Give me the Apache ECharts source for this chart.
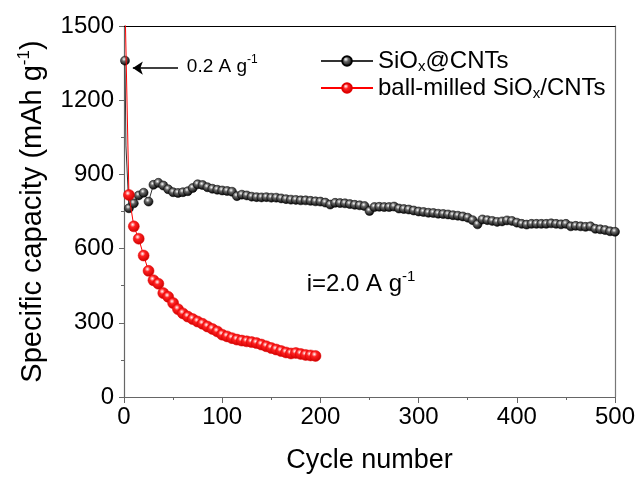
<!DOCTYPE html>
<html><head><meta charset="utf-8">
<script src="https://cdn.jsdelivr.net/npm/echarts@6/dist/echarts.min.js"></script>
<style>html,body{margin:0;padding:0;background:#fff}#c{width:642px;height:482px}</style>
</head><body><div id="c"></div>
<script>
// ---- data ----
const blackCycles = [1,2,4,5,10,15,20,25,30,35,40,45,50,55,60,65,70,75,80,85,90,95,100,105,110,115,120,125,130,135,140,145,150,155,160,165,170,175,180,185,190,195,200,205,210,215,220,225,230,235,240,245,250,255,260,265,270,275,280,285,290,295,300,305,310,315,320,325,330,335,340,345,350,355,360,365,370,375,380,385,390,395,400,405,410,415,420,425,430,435,440,445,450,455,460,465,470,475,480,485,490,495,500];
const blackValues = [1360,1015,1010,763,783,815,826,790,858,866,855,840,828,825,828,832,845,860,857,848,842,838,835,833,830,812,818,815,810,808,807,808,806,806,803,800,798,797,795,795,793,791,790,786,778,785,784,783,780,777,775,772,752,768,769,768,768,770,762,760,758,754,750,748,745,744,741,740,738,735,733,730,725,715,698,718,715,712,708,710,714,712,705,700,697,700,700,700,700,702,700,698,700,690,692,690,688,690,680,678,675,670,668];
const blackUnmarked = [2,4];
const redCycles = [1,5,10,15,20,25,30,35,40,45,50,55,60,65,70,75,80,85,90,95,100,105,110,115,120,125,130,135,140,145,150,155,160,165,170,175,180,185,190,195];
const redValues = [1600,817,690,640,572,510,472,458,420,405,380,355,338,325,315,305,296,285,275,265,252,245,238,232,228,225,222,218,212,205,198,192,186,180,176,178,174,170,168,166];
const xTicks = [0,100,200,300,400,500];
const yTicks = [0,300,600,900,1200,1500];
const arrowFrom = [55,1330], arrowTo = [9,1330];
const note1Pos = [64,1330];
const note2Pos = [186,453];

const FONT = 'Liberation Sans, Arial, sans-serif';
const chart = echarts.init(document.getElementById('c'));

function ball(c0, c1, c2){
  return {type:'radial', x:0.4, y:0.35, r:0.65,
    colorStops:[{offset:0,color:c0},{offset:0.35,color:c1},{offset:1,color:c2}]};
}
const blackData = blackCycles.map((c,i)=> blackUnmarked.includes(c)
  ? {value:[c, blackValues[i]], symbol:'none'} : [c, blackValues[i]]);
const redData = redCycles.map((c,i)=>[c, redValues[i]]);

chart.setOption({
  animation:false,
  textStyle:{fontFamily:FONT},
  grid:{left:124, right:27, top:26, bottom:85},
  legend:{
    orient:'vertical', left:315, top:44, itemWidth:52, itemHeight:12, itemGap:2,
    data:['SiOx@CNTs','ball-milled SiOx/CNTs'],
    formatter: n => n==='SiOx@CNTs' ? '{a|SiO}{b|x}{a|@CNTs}' : '{a|ball-milled SiO}{b|x}{a|/CNTs}',
    textStyle:{fontFamily:FONT, color:'#000', rich:{
      a:{fontSize:24, fontFamily:FONT, color:'#000', lineHeight:26},
      b:{fontSize:15, fontFamily:FONT, color:'#000', verticalAlign:'bottom', lineHeight:15}
    }}
  },
  xAxis:[{
    type:'value', min:0, max:500, interval:100,
    name:'Cycle number', nameLocation:'middle', nameGap:50,
    nameTextStyle:{fontSize:27, color:'#000', fontFamily:FONT},
    axisLine:{lineStyle:{color:'#666', width:1.2}},
    axisTick:{length:6, lineStyle:{color:'#666'}},
    minorTick:{show:true, splitNumber:2, length:3, lineStyle:{color:'#666'}},
    splitLine:{show:false},
    axisLabel:{fontSize:24, color:'#000', margin:8, fontFamily:FONT, formatter: v => String(v)}
  },{
    type:'value', position:'top', min:0, max:500,
    axisLine:{show:true, onZero:false, lineStyle:{color:'#000', width:1.2}},
    axisTick:{show:false}, axisLabel:{show:false}, splitLine:{show:false}
  }],
  yAxis:[{
    type:'value', min:0, max:1500, interval:300,
    name:'{a|Specific capacity (mAh g}{s|-1}{a|)}', nameLocation:'middle', nameGap:74,
    nameTextStyle:{fontFamily:FONT, color:'#000', rich:{
      a:{fontSize:29, fontFamily:FONT, color:'#000', lineHeight:34},
      s:{fontSize:17, fontFamily:FONT, color:'#000', verticalAlign:'top', lineHeight:17}
    }},
    axisLine:{show:true, lineStyle:{color:'#666', width:1.2}},
    axisTick:{show:true, length:5, lineStyle:{color:'#666'}},
    minorTick:{show:true, splitNumber:2, length:3, lineStyle:{color:'#666'}},
    splitLine:{show:false},
    axisLabel:{fontSize:24, color:'#000', margin:10, fontFamily:FONT, formatter: v => String(v)}
  },{
    type:'value', position:'right', min:0, max:1500,
    axisLine:{show:true, onZero:false, lineStyle:{color:'#777', width:1.2}},
    axisTick:{show:false}, axisLabel:{show:false}, splitLine:{show:false}
  }],
  series:[{
    name:'SiOx@CNTs', type:'line', data:blackData, clip:true,
    symbol:'circle', symbolSize:9, showAllSymbol:true,
    lineStyle:{color:'#333', width:1},
    itemStyle:{color:ball('#ffffff','#666666','#000000'), borderColor:'#000', borderWidth:0.5},
    markLine:{silent:true, symbol:['none','arrow'], symbolSize:10,
      lineStyle:{color:'#000', width:1.5, type:'solid'}, label:{show:false},
      data:[[{coord:arrowFrom},{coord:arrowTo}]]},
    z:3
  },{
    name:'ball-milled SiOx/CNTs', type:'line', data:redData, clip:true,
    symbol:'circle', symbolSize:11, showAllSymbol:true,
    lineStyle:{color:'#ff0000', width:1},
    itemStyle:{color:ball('#ffffff','#ff2020','#cc0000'), borderColor:'#e00000', borderWidth:0.5},
    z:4
  }]
});

const p1 = chart.convertToPixel({gridIndex:0}, note1Pos);
const p2 = chart.convertToPixel({gridIndex:0}, note2Pos);
chart.setOption({graphic:[
  {type:'text', left:p1[0], top:p1[1]-14, style:{
    text:'{a|0.2 A g}{s|-1}', fontFamily:FONT,
    rich:{a:{fontSize:19, fontFamily:FONT, fill:'#000', lineHeight:25}, s:{fontSize:12, fontFamily:FONT, fill:'#000', verticalAlign:'top', lineHeight:12}}}},
  {type:'text', left:p2[0], top:p2[1]-16, style:{
    text:'{a|i=2.0 A g}{s|-1}', fontFamily:FONT,
    rich:{a:{fontSize:24, fontFamily:FONT, fill:'#000', lineHeight:30}, s:{fontSize:15, fontFamily:FONT, fill:'#000', verticalAlign:'top', lineHeight:15}}}}
]});
</script></body></html>
